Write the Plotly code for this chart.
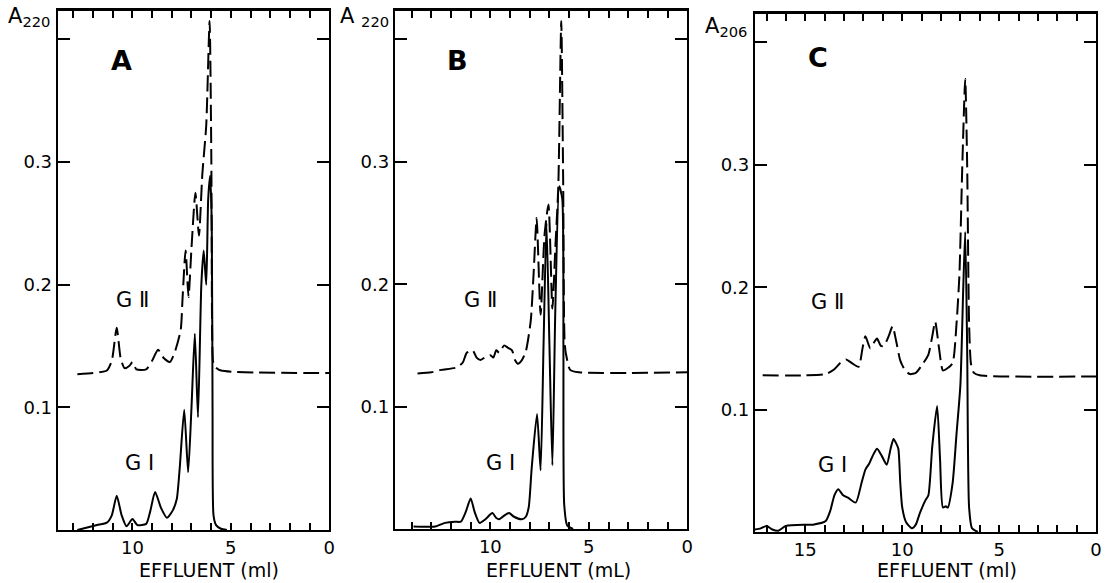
import plotly.graph_objects as go

# ---------------- data ----------------
# Panel A
a_gi_x = [12.8, 12.3, 11.8, 11.3, 11.05, 10.8, 10.55, 10.3, 10.0, 9.75, 9.3, 9.1, 8.85, 8.55, 8.25, 7.95, 7.75, 7.6, 7.37, 7.17, 7.0, 6.83, 6.67, 6.5, 6.38, 6.25, 6.15, 6.05, 5.97, 5.93, 5.88, 5.75, 5.5, 5.2]
a_gi_y = [0.0, 0.002, 0.004, 0.006, 0.012, 0.028, 0.012, 0.003, 0.009, 0.004, 0.005, 0.015, 0.031, 0.018, 0.010, 0.016, 0.025, 0.05, 0.098, 0.047, 0.10, 0.160, 0.092, 0.20, 0.228, 0.20, 0.27, 0.289, 0.25, 0.10, 0.012, 0.004, 0.001, 0.0]
a_gii_x = [12.8, 12.0, 11.3, 11.05, 10.8, 10.6, 10.4, 10.15, 10.0, 9.8, 9.3, 9.0, 8.7, 8.4, 8.1, 7.85, 7.55, 7.45, 7.3, 7.15, 7.0, 6.8, 6.62, 6.45, 6.25, 6.08, 5.99, 5.95, 5.9, 5.8, 5.5, 0.0]
a_gii_y = [0.127, 0.128, 0.130, 0.138, 0.165, 0.140, 0.132, 0.134, 0.137, 0.131, 0.131, 0.138, 0.147, 0.140, 0.137, 0.145, 0.163, 0.19, 0.228, 0.19, 0.23, 0.275, 0.24, 0.29, 0.33, 0.415, 0.30, 0.16, 0.137, 0.133, 0.130, 0.128]

# Panel B
b_gi_x = [13.9, 12.8, 12.3, 11.8, 11.5, 11.25, 11.0, 10.8, 10.55, 10.25, 9.9, 9.7, 9.55, 9.3, 9.05, 8.8, 8.4, 8.2, 8.05, 7.9, 7.63, 7.45, 7.3, 7.15, 7.0, 6.85, 6.7, 6.5, 6.35, 6.29, 6.25, 6.1, 5.8]
b_gi_y = [0.002, 0.002, 0.005, 0.006, 0.006, 0.014, 0.025, 0.014, 0.005, 0.008, 0.013, 0.009, 0.008, 0.011, 0.013, 0.010, 0.008, 0.010, 0.018, 0.05, 0.094, 0.048, 0.15, 0.25, 0.15, 0.052, 0.18, 0.28, 0.27, 0.15, 0.02, 0.003, 0.0]
b_gii_x = [13.7, 13.0, 12.5, 11.7, 11.4, 11.2, 10.9, 10.7, 10.5, 10.2, 10.0, 9.85, 9.7, 9.55, 9.3, 9.1, 8.9, 8.75, 8.6, 8.4, 8.2, 7.95, 7.8, 7.65, 7.45, 7.25, 7.05, 6.85, 6.7, 6.55, 6.4, 6.3, 6.22, 6.1, 5.95, 5.5, 0.0]
b_gii_y = [0.127, 0.128, 0.130, 0.132, 0.136, 0.144, 0.146, 0.140, 0.138, 0.141, 0.142, 0.140, 0.146, 0.144, 0.150, 0.148, 0.146, 0.138, 0.135, 0.138, 0.145, 0.17, 0.21, 0.254, 0.175, 0.24, 0.265, 0.18, 0.23, 0.28, 0.415, 0.28, 0.15, 0.138, 0.130, 0.128, 0.128]

# Panel C
c_gi_x = [17.6, 17.3, 17.0, 16.7, 16.4, 16.0, 15.0, 14.6, 13.95, 13.7, 13.5, 13.3, 13.05, 12.8, 12.4, 12.1, 11.9, 11.7, 11.5, 11.3, 11.05, 10.8, 10.6, 10.45, 10.3, 10.2, 10.1, 10.0, 9.8, 9.5, 9.3, 9.1, 8.8, 8.65, 8.45, 8.2, 8.05, 7.9, 7.75, 7.65, 7.4, 7.2, 7.0, 6.85, 6.75, 6.65, 6.55, 6.4, 6.1]
c_gi_y = [0.002, 0.003, 0.005, 0.002, 0.001, 0.005, 0.006, 0.006, 0.009, 0.018, 0.030, 0.035, 0.030, 0.028, 0.024, 0.040, 0.051, 0.056, 0.063, 0.068, 0.062, 0.055, 0.068, 0.076, 0.072, 0.068, 0.04, 0.02, 0.008, 0.003, 0.006, 0.015, 0.026, 0.030, 0.07, 0.103, 0.06, 0.020, 0.021, 0.020, 0.04, 0.08, 0.12, 0.20, 0.245, 0.15, 0.02, 0.003, 0.0]
c_gii_x = [17.2, 15.0, 13.95, 13.5, 13.2, 12.9, 12.6, 12.25, 12.05, 11.9, 11.65, 11.45, 11.3, 11.1, 10.95, 10.7, 10.5, 10.3, 10.1, 9.85, 9.6, 9.3, 9.0, 8.65, 8.45, 8.3, 8.1, 7.9, 7.65, 7.4, 7.2, 7.05, 6.9, 6.75, 6.65, 6.55, 6.45, 6.3, 6.0, 0.0]
c_gii_y = [0.128, 0.128, 0.129, 0.133, 0.138, 0.141, 0.138, 0.135, 0.150, 0.160, 0.150, 0.155, 0.158, 0.152, 0.152, 0.160, 0.168, 0.155, 0.140, 0.132, 0.129, 0.130, 0.136, 0.145, 0.160, 0.172, 0.150, 0.132, 0.134, 0.138, 0.17, 0.21, 0.30, 0.370, 0.30, 0.17, 0.137, 0.130, 0.128, 0.127]

panel_letters = ["A", "B", "C"]
y_labels = ["A<sub>220</sub>", "A <sub>220</sub>", "A<sub>206</sub>"]
x_titles = ["EFFLUENT (ml)", "EFFLUENT (mL)", "EFFLUENT (ml)"]
x_ranges = [[13.8, 0], [14.85, 0], [17.6, 0]]
x_ticks_all = [list(range(0, 14)), list(range(0, 15)), list(range(0, 18))]
x_labeled = [[10, 5, 0], [10, 5, 0], [15, 10, 5, 0]]
y_tickvals = [0.1, 0.2, 0.3, 0.4]
y_ticktext = ["0.1", "0.2", "0.3", " "]
y_range = [0, 0.424]

# ---------------- layout helpers ----------------
W, H = 1114, 583
def fx(p):
    return p / W
def fy(p):
    return 1 - p / H

boxes = [(58, 331, 10, 530), (397, 691, 10, 529), (759, 1102, 13, 532)]

FONT = "DejaVu Sans"
fig = go.Figure()

series = [(a_gi_x, a_gi_y, a_gii_x, a_gii_y), (b_gi_x, b_gi_y, b_gii_x, b_gii_y), (c_gi_x, c_gi_y, c_gii_x, c_gii_y)]

for i, (gx, gy, hx, hy) in enumerate(series):
    xa = "x" if i == 0 else f"x{i+1}"
    ya = "y" if i == 0 else f"y{i+1}"
    fig.add_trace(go.Scatter(x=hx, y=hy, mode="lines", xaxis=xa, yaxis=ya,
                             line=dict(color="black", width=2, dash="16px,6px", shape="spline", smoothing=0.6),
                             showlegend=False, hoverinfo="skip"))
    fig.add_trace(go.Scatter(x=gx, y=gy, mode="lines", xaxis=xa, yaxis=ya,
                             line=dict(color="black", width=2, shape="spline", smoothing=0.6),
                             showlegend=False, hoverinfo="skip"))
    # invisible copy on the top tick axis so that it is drawn
    fig.add_trace(go.Scatter(x=hx, y=hy, mode="lines", xaxis=f"x{i+4}", yaxis=ya,
                             line=dict(color="rgba(0,0,0,0)", width=0),
                             showlegend=False, hoverinfo="skip"))

layout = dict(width=W, height=H, autosize=False, margin=dict(l=0, r=0, t=0, b=0),
              paper_bgcolor="white", plot_bgcolor="white",
              font=dict(family=FONT, color="black", size=16))

annotations = []
for i, (l, r, t, b) in enumerate(boxes):
    xk = "xaxis" if i == 0 else f"xaxis{i+1}"
    yk = "yaxis" if i == 0 else f"yaxis{i+1}"
    ya = "y" if i == 0 else f"y{i+1}"
    xa = "x" if i == 0 else f"x{i+1}"
    ttext = [str(v) if v in x_labeled[i] else " " for v in x_ticks_all[i]]
    layout[xk] = dict(domain=[fx(l), fx(r)], range=x_ranges[i], anchor=ya,
                      showline=True, linecolor="black", linewidth=2, mirror=True,
                      ticks="inside", ticklen=7, tickwidth=2, tickcolor="black",
                      tickmode="array", tickvals=x_ticks_all[i], ticktext=ttext,
                      showgrid=False, zeroline=False,
                      tickfont=dict(size=18, family=FONT))
    layout[f"xaxis{i+4}"] = dict(domain=[fx(l), fx(r)], range=x_ranges[i], type="linear",
                                 anchor="free", position=fy(t), overlaying=xa, side="top",
                                 showline=True, linecolor="black", linewidth=2,
                                 ticks="inside", ticklen=7, tickwidth=2, tickcolor="black",
                                 tickmode="array", tickvals=x_ticks_all[i], showticklabels=False,
                                 showgrid=False, zeroline=False)
    layout[yk] = dict(domain=[fy(b), fy(t)], range=y_range, anchor=xa,
                      showline=True, linecolor="black", linewidth=2, mirror="ticks",
                      ticks="inside", ticklen=12, tickwidth=2, tickcolor="black",
                      tickmode="array", tickvals=y_tickvals, ticktext=y_ticktext,
                      showgrid=False, zeroline=False,
                      tickfont=dict(size=18, family=FONT))
    # panel letter
    lx = [122, 460, 822][i]
    annotations.append(dict(x=fx(lx), y=fy(60 if i < 2 else 58), xref="paper", yref="paper",
                            text="<b>" + panel_letters[i] + "</b>", showarrow=False, font=dict(size=27, family=FONT),
                            xanchor="center", yanchor="middle"))
    # y label
    yl = [(29, 17), (366, 17), (730, 27)][i]
    annotations.append(dict(x=fx(yl[0]), y=fy(yl[1]), xref="paper", yref="paper",
                            text=y_labels[i], showarrow=False, font=dict(size=21, family=FONT),
                            xanchor="center", yanchor="middle"))
    # x title
    tx = [210, 562, 952][i]
    annotations.append(dict(x=fx(tx), y=fy(570), xref="paper", yref="paper",
                            text=x_titles[i], showarrow=False, font=dict(size=19, family=FONT),
                            xanchor="center", yanchor="middle"))
    # G II / G I
    g2 = [(133, 300), (483, 300), (832, 302)][i]
    g1 = [(140, 463), (503, 463), (837, 465)][i]
    annotations.append(dict(x=fx(g2[0]), y=fy(g2[1]), xref="paper", yref="paper",
                            text="G Ⅱ", showarrow=False, font=dict(size=21, family=FONT),
                            xanchor="center", yanchor="middle"))
    annotations.append(dict(x=fx(g1[0]), y=fy(g1[1]), xref="paper", yref="paper",
                            text="G Ⅰ", showarrow=False, font=dict(size=21, family=FONT),
                            xanchor="center", yanchor="middle"))

layout["annotations"] = annotations
fig.update_layout(**layout)
fig.write_html("out.html", config={"displayModeBar": False},
               post_script="document.body.style.margin='0';document.body.style.padding='0';")
